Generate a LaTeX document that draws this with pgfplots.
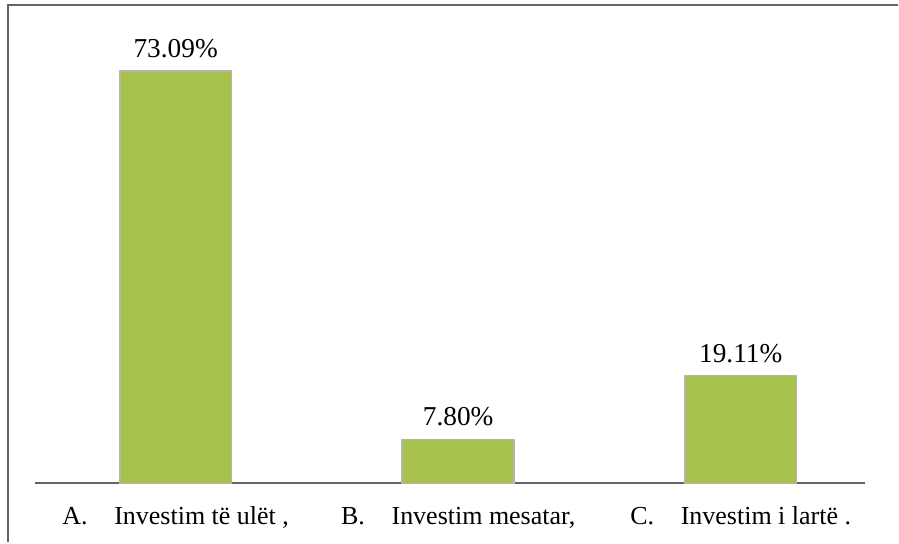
\documentclass[border=0pt]{standalone}
\usepackage{fontspec}
\setmainfont{Liberation Serif}
\usepackage{pgfplots}
\pgfplotsset{compat=1.18}
\definecolor{barg}{RGB}{166,194,76}
\definecolor{bard}{RGB}{180,182,170}
\definecolor{axg}{RGB}{100,100,100}
\begin{document}
\begin{tikzpicture}
\begin{axis}[
  scale only axis,
  width=623.25pt, height=359.25pt,
  xmin=-0.498, xmax=2.44,
  ymin=0, ymax=84.8,
  axis x line*=bottom,
  axis y line=none,
  x axis line style={draw=axg, line width=1.5pt, -},
  xtick=data,
  xticklabels={{A.\hspace{20pt}Investim të ulët ,},{B.\hspace{20pt}Investim mesatar,},{C.\hspace{20pt}Investim i lartë .}},
  x tick label style={font=\fontsize{19.5}{23}\selectfont, yshift=-14pt},
  major tick length=0pt,
  ytick=\empty,
  /pgf/number format/assume math mode=true,
  ybar, bar width=84pt,
  nodes near coords={\pgfmathprintnumber[fixed,fixed zerofill,precision=2,assume math mode=true]{\pgfplotspointmeta}\%},
  every node near coord/.append style={font=\fontsize{20.5}{24}\selectfont, yshift=6pt},
  clip=false,
]
\addplot[fill=barg, draw=bard, line width=1.2pt] coordinates {(0,73.09) (1,7.80) (2,19.11)};
\end{axis}
\draw[axg, line width=1.5pt] ([xshift=-20.25pt,yshift=-44.25pt]current axis.south west) -- ([xshift=-20.25pt]current axis.north west) -- ([xshift=24.75pt]current axis.north east);
\path ([xshift=-26.25pt,yshift=-44.25pt]current axis.south west) rectangle ([xshift=24.75pt,yshift=3.75pt]current axis.north east);
\end{tikzpicture}
\end{document}
